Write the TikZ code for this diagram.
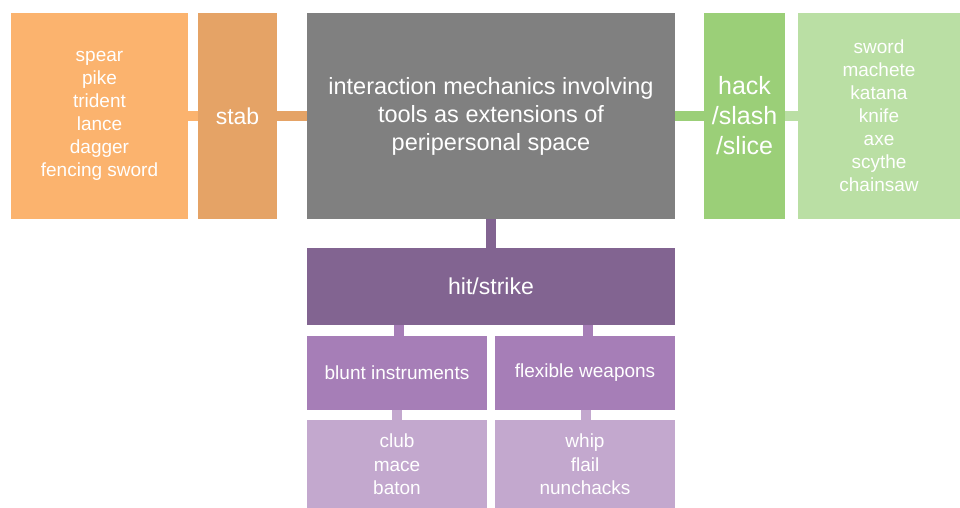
\documentclass[tikz,border=0pt]{standalone}
\usepackage{fontspec}
\setmainfont{Liberation Sans}
\usetikzlibrary{positioning}

\definecolor{stabitem}{HTML}{FBB36E}
\definecolor{stabcol}{HTML}{E5A366}
\definecolor{corecol}{HTML}{808080}
\definecolor{hackcol}{HTML}{9BCF78}
\definecolor{hackitem}{HTML}{BADFA4}
\definecolor{hitcol}{HTML}{826491}
\definecolor{kindcol}{HTML}{A67EB7}
\definecolor{kinditem}{HTML}{C3A8CE}

\begin{document}
\begin{tikzpicture}[
  x=1pt, y=1pt,
  blk/.style={
    rectangle, inner sep=0pt, outer sep=0pt,
    text=white, align=center
  },
  listbox/.style={blk, minimum height=206pt, font=\fontsize{19}{23}\selectfont},
  verb/.style={blk, minimum height=206pt},
  kind/.style={blk, fill=kindcol, minimum width=180pt, minimum height=74pt, font=\fontsize{19}{23}\selectfont},
  kitem/.style={blk, fill=kinditem, minimum width=180pt, minimum height=89pt, font=\fontsize{19}{23.5}\selectfont},
  link/.style={line width=10pt}
]
\useasboundingbox (0,0) rectangle (960,-508);

\node[blk, fill=corecol, minimum width=368pt, minimum height=206pt,
  font=\fontsize{23.5}{28}\selectfont] (core) at (491,-116)
  {interaction mechanics involving\\tools as extensions of\\peripersonal space};

\node[verb, fill=stabcol, minimum width=79pt, font=\fontsize{23}{27}\selectfont,
  left=30pt of core] (stab) {stab};
\node[listbox, fill=stabitem, minimum width=177pt, left=10pt of stab] (stabs)
  {spear\\pike\\trident\\lance\\dagger\\fencing sword};

\node[verb, fill=hackcol, minimum width=81pt, font=\fontsize{25}{30}\selectfont,
  right=29pt of core] (hack) {hack\\/slash\\/slice};
\node[listbox, fill=hackitem, minimum width=162pt, right=13pt of hack] (hacks)
  {sword\\machete\\katana\\knife\\axe\\scythe\\chainsaw};

\node[blk, fill=hitcol, minimum width=368pt, minimum height=77pt,
  font=\fontsize{23}{27}\selectfont, below=29pt of core] (hit) {hit/strike};
\node[kind, below right=11pt and 0pt of hit.south west] (blunt) {blunt instruments};
\node[kind, below left=11pt and 0pt of hit.south east] (flex) {flexible weapons};
\node[kitem, below=10pt of blunt] (blunts) {club\\mace\\baton};
\node[kitem, below=10pt of flex] (flexs) {whip\\flail\\nunchacks};

% connectors
\draw[link, stabitem] (stabs) -- (stab);
\draw[link, stabcol] (stab) -- (core);
\draw[link, hackcol] (core) -- (hack);
\draw[link, hackitem] (hack) -- (hacks);
\draw[link, hitcol] (core) -- (hit);
\draw[link, kindcol] ([xshift=1.5pt]blunt.north) -- ([xshift=1.5pt]blunt.north |- hit.south);
\draw[link, kindcol] ([xshift=3pt]flex.north) -- ([xshift=3pt]flex.north |- hit.south);
\draw[link, kinditem] (blunts) -- (blunt);
\draw[link, kinditem] ([xshift=1pt]flexs.north) -- ([xshift=1pt]flex.south);

\end{tikzpicture}
\end{document}
